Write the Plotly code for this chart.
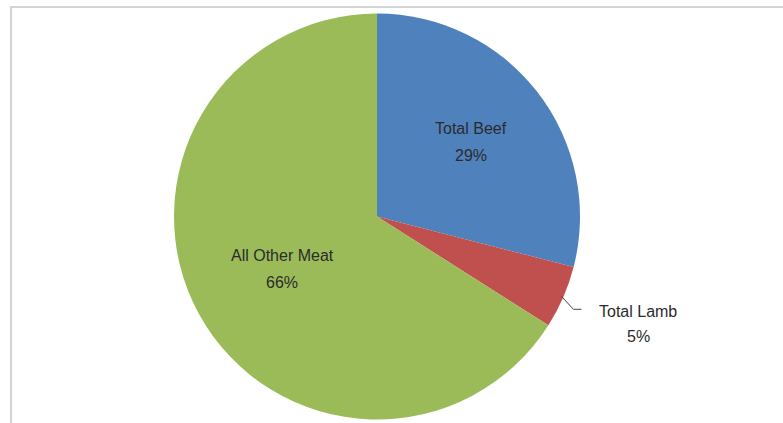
import math
import plotly.graph_objects as go

labels = ["Total Beef", "Total Lamb", "All Other Meat"]
values = [29, 5, 66]
colors = ["#4F81BD", "#C0504D", "#9BBB59"]

W, H = 783, 423
CX, CY, R = 377, 216.5, 203

def px(x):
    return x / W

def py(y):
    return 1 - y / H

fig = go.Figure(go.Pie(
    labels=labels,
    values=values,
    sort=False,
    direction="clockwise",
    rotation=0,
    marker=dict(colors=colors, line=dict(width=0)),
    textinfo="none",
    hoverinfo="label+percent",
    showlegend=False,
    domain=dict(x=[px(CX - R), px(CX + R)], y=[py(CY + R), py(CY - R)]),
))

total = sum(values)
pcts = [round(v / total * 100) for v in values]

# label positions (pixels): inside for beef & other, outside for lamb
label_pos = [(471, 128, 155), (638, 311, 336), (282, 255, 282)]
font = dict(family="Liberation Sans, Arial, sans-serif", size=16, color="#2b2b2b")
annotations = []
for i, (lab, p) in enumerate(zip(labels, pcts)):
    x, y1, y2 = label_pos[i]
    annotations.append(dict(x=px(x), y=py(y1), xref="paper", yref="paper", text=lab,
                            showarrow=False, font=font, xanchor="center", yanchor="middle"))
    annotations.append(dict(x=px(x), y=py(y2), xref="paper", yref="paper", text=f"{p}%",
                            showarrow=False, font=font, xanchor="center", yanchor="middle"))

# leader line for lamb from the middle of its slice
cum = sum(values[:1]) + values[1] / 2
ang = cum / total * 2 * math.pi
sx = CX + R * 0.99 * math.sin(ang)
sy = CY - R * 0.99 * math.cos(ang)
ex, ey = sx + 12, sy + 13
shapes = [
    dict(type="path", xref="paper", yref="paper",
         path=f"M {px(sx)} {py(sy)} L {px(ex)} {py(ey)} L {px(ex + 8)} {py(ey)}",
         line=dict(color="#444444", width=1)),
    dict(type="rect", xref="paper", yref="paper",
         x0=px(11), x1=1.2, y0=-0.2, y1=py(7),
         line=dict(color="#d4d4d4", width=2), layer="below"),
]

fig.update_layout(
    width=W, height=H,
    margin=dict(l=0, r=0, t=0, b=0),
    paper_bgcolor="white",
    plot_bgcolor="white",
    annotations=annotations,
    shapes=shapes,
)

fig.write_html("out.html", config={"displayModeBar": False},
               post_script="document.body.style.margin='0';document.body.style.overflow='hidden';")
